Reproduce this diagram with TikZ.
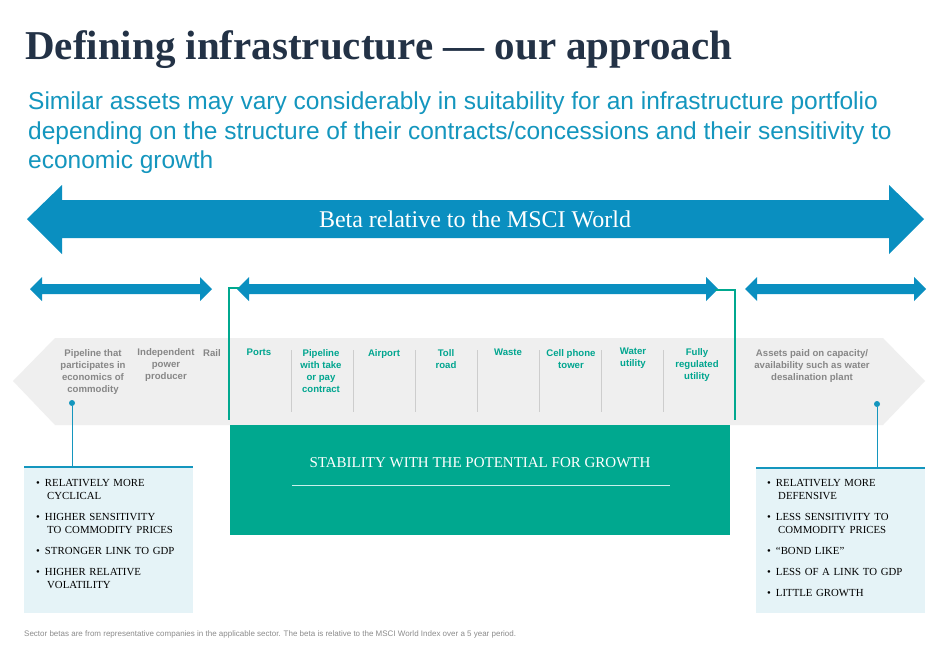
\documentclass[tikz,border=0pt]{standalone}
\usepackage{fontspec}
\setmainfont{Liberation Serif}
\newfontfamily\arial{Liberation Sans}
\definecolor{navy}{RGB}{35,50,70}
\definecolor{tealb}{RGB}{20,150,190}
\definecolor{arrowb}{RGB}{10,143,192}
\definecolor{grn}{RGB}{0,168,143}
\definecolor{pale}{RGB}{229,243,247}
\definecolor{band}{RGB}{239,239,239}
\definecolor{sepc}{RGB}{205,205,205}
\definecolor{greytxt}{RGB}{135,135,135}
\definecolor{tealtxt}{RGB}{0,165,143}
\definecolor{paleline}{RGB}{200,240,235}
\definecolor{foottxt}{RGB}{140,140,140}
\begin{document}
\begin{tikzpicture}[x=1pt,y=-1pt,
  blu/.style={fill=arrowb},
  col/.style={font=\arial\bfseries\fontsize{9.6}{12}\selectfont,align=center,anchor=north,inner sep=0},
  gcol/.style={col,text=greytxt},
  tcol/.style={col,text=tealtxt},
  bul/.style={font=\fontsize{10.8}{13}\selectfont,align=left,anchor=north west,inner sep=0,text width=160pt},
  sep/.style={draw=sepc,line width=0.6pt}]
\useasboundingbox (0,0) rectangle (949,646);
\fill[white] (0,0) rectangle (949,646);
\node[anchor=base west,inner sep=0,text=navy,font=\bfseries\fontsize{41}{46}\selectfont] (title) at (25,59) {Defining infrastructure — our approach};
\node[anchor=north west,inner sep=0,text=tealb,font=\arial\fontsize{24.5}{29.5}\selectfont,align=left] (sub) at (28,92) {Similar assets may vary considerably in suitability for an infrastructure portfolio\\depending on the structure of their contracts/concessions and their sensitivity to\\economic growth};
\fill[blu] (27,219) -- (62,185) -- (62,200) -- (889,200) -- (889,185) -- (924,219) -- (889,254) -- (889,238) -- (62,238) -- (62,254) -- cycle;
\node[text=white,font=\fontsize{24}{26}\selectfont] (beta) at (475,219) {Beta relative to the MSCI World};
\foreach \a/\b in {30/212,237/718,745/926}{
  \fill[blu] (\a,289) -- (\a+12,277) -- (\a+12,284) -- (\b-12,284) -- (\b-12,277) -- (\b,289) -- (\b-12,301) -- (\b-12,294) -- (\a+12,294) -- (\a+12,301) -- cycle;}
\fill[band] (13,381) -- (55,338) -- (883,338) -- (925,381) -- (883,425) -- (55,425) -- cycle;
\draw[grn,line width=1.2pt] (240,288) -- (229,288) -- (229,420);
\draw[grn,line width=1.2pt] (715,290) -- (735,290) -- (735,420);
\foreach \x in {291,353,415,477,539,601,663} \draw[sep] (\x,350) -- (\x,412);
\node[gcol] (c1) at (93,349) {Pipeline that\\participates in\\economics of\\commodity};
\node[gcol] (c2) at (166,348) {Independent\\power\\producer};
\node[gcol] (c3) at (212,349) {Rail};
\node[tcol] (c4) at (259,349) {Ports};
\node[tcol] (c5) at (321,349) {Pipeline\\with take\\or pay\\contract};
\node[tcol] (c6) at (384,349) {Airport};
\node[tcol] (c7) at (446,349) {Toll\\road};
\node[tcol] (c8) at (508,349) {Waste};
\node[tcol] (c9) at (571,349) {Cell phone\\tower};
\node[tcol] (c10) at (633,348) {Water\\utility};
\node[tcol] (c11) at (697,348) {Fully\\regulated\\utility};
\node[gcol] (c12) at (812,349) {Assets paid on capacity/\\availability such as water\\desalination plant};
\fill[grn] (230,425) rectangle (730,535);
\node[text=white,font=\fontsize{15}{17}\selectfont] (stab) at (480,463) {STABILITY WITH THE POTENTIAL FOR GROWTH};
\draw[paleline,line width=1pt] (292,485) -- (670,485);
\fill[pale] (24,467) rectangle (193,613);
\draw[tealb,line width=1.2pt] (24,467) -- (193,467);
\fill[pale] (756,468) rectangle (925,613);
\draw[tealb,line width=1.2pt] (756,468) -- (925,468);
\coordinate (lb) at (72,467);
\coordinate (rb) at (877,468);
\node[circle,fill=tealb,inner sep=0,minimum size=6pt] (ld) at (72,403) {};
\node[circle,fill=tealb,inner sep=0,minimum size=6pt] (rd) at (877,404) {};
\draw[tealb,line width=1pt] (ld) -- (lb);
\draw[tealb,line width=1pt] (rd) -- (rb);
\node[bul] (lt) at (36,479) {•\hspace{5pt}RELATIVELY MORE\\\hspace{11pt}CYCLICAL\\[8pt]•\hspace{5pt}HIGHER SENSITIVITY\\\hspace{11pt}TO COMMODITY PRICES\\[8pt]•\hspace{5pt}STRONGER LINK TO GDP\\[8pt]•\hspace{5pt}HIGHER RELATIVE\\\hspace{11pt}VOLATILITY};
\node[bul] (rt) at (767,479) {•\hspace{5pt}RELATIVELY MORE\\\hspace{11pt}DEFENSIVE\\[8pt]•\hspace{5pt}LESS SENSITIVITY TO\\\hspace{11pt}COMMODITY PRICES\\[8pt]•\hspace{5pt}“BOND LIKE”\\[8pt]•\hspace{5pt}LESS OF A LINK TO GDP\\[8pt]•\hspace{5pt}LITTLE GROWTH};
\node[anchor=west,inner sep=0,text=foottxt,font=\arial\fontsize{8}{9}\selectfont] (foot) at (24,634) {Sector betas are from representative companies in the applicable sector. The beta is relative to the MSCI World Index over a 5 year period.};
\end{tikzpicture}
\end{document}
